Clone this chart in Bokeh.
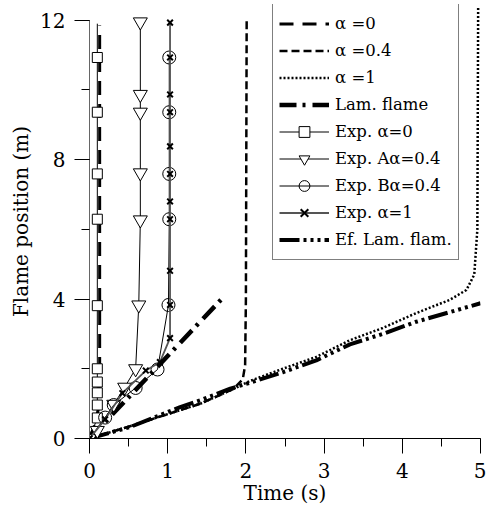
from bokeh.plotting import figure
from bokeh.models import Range1d, Legend, LegendItem, SingleIntervalTicker
from bokeh.embed import file_html
from bokeh.resources import INLINE

# ---- data ----
a0_t = [0.0, 0.06, 0.12, 0.13, 0.13]
a0_y = [0.0, 0.35, 0.9, 2.0, 11.85]

a04_t = [0.0, 0.56, 1.0, 1.42, 1.84, 1.96, 1.99, 2.0, 2.01]
a04_y = [0.0, 0.38, 0.7, 1.0, 1.42, 1.7, 2.1, 4.0, 12.05]

a1_t = [0.0, 0.56, 1.0, 1.42, 1.84, 2.05, 2.47, 2.9, 3.33, 3.75, 4.18, 4.6, 4.82, 4.92, 4.96, 4.97]
a1_y = [0.0, 0.38, 0.7, 1.0, 1.42, 1.65, 2.0, 2.34, 2.82, 3.17, 3.6, 3.97, 4.26, 4.7, 6.0, 12.35]

lam_t = [0.0, 1.69]
lam_y = [0.0, 4.0]

eflam_t = [0.0, 0.52, 1.16, 1.42, 1.8, 2.05, 2.47, 2.9, 3.33, 3.75, 4.18, 4.6, 5.0]
eflam_y = [0.0, 0.33, 0.9, 1.1, 1.43, 1.6, 1.9, 2.24, 2.7, 3.0, 3.35, 3.62, 3.88]

exp0_t = [0.0, 0.1, 0.1, 0.1, 0.1, 0.1, 0.1, 0.1, 0.1, 0.1, 0.1]
exp0_y = [0.0, 0.59, 0.96, 1.31, 1.62, 2.0, 3.81, 6.29, 7.59, 9.36, 10.93]
exp0_top = [0.1, 11.9]

expA_t = [0.0, 0.1, 0.31, 0.45, 0.59, 0.63, 0.65, 0.65, 0.65, 0.65, 0.65]
expA_y = [0.0, 0.23, 0.98, 1.47, 2.0, 3.83, 6.27, 7.62, 9.36, 9.87, 11.95]

expB_t = [0.0, 0.2, 0.31, 0.59, 0.87, 1.01, 1.02, 1.02, 1.02, 1.02]
expB_y = [0.0, 0.6, 0.96, 1.45, 1.98, 3.83, 6.29, 7.59, 9.36, 10.93]

exp1_t = [0.0, 0.2, 0.42, 0.72, 0.9, 1.03, 1.03, 1.03, 1.03, 1.03, 1.03, 1.03, 1.03, 1.03, 1.03, 1.03]
exp1_y = [0.0, 0.55, 1.3, 1.95, 2.19, 2.88, 3.83, 4.81, 6.29, 6.8, 7.59, 8.38, 9.36, 9.87, 10.93, 11.93]

labels = ["\u03b1 =0", "\u03b1 =0.4", "\u03b1 =1", "Lam. flame", "Exp. \u03b1=0",
          "Exp. A\u03b1=0.4", "Exp. B\u03b1=0.4", "Exp. \u03b1=1", "Ef. Lam. flam."]

FONT = "DejaVu Serif"

p = figure(width=486, height=510, output_backend="svg", toolbar_location=None,
           x_range=Range1d(0, 5), y_range=Range1d(0, 12.45),
           min_border_left=89, min_border_right=6, min_border_top=4, min_border_bottom=72)
p.outline_line_color = None
p.xgrid.visible = False
p.ygrid.visible = False

r_a0 = p.line(a0_t, a0_y, line_color="black", line_width=3, line_dash="14 9")
r_a04 = p.line(a04_t, a04_y, line_color="black", line_width=2.5, line_dash="8 4")
r_a1 = p.line(a1_t, a1_y, line_color="black", line_width=2.5, line_dash="2 2")
r_lam = p.line(lam_t, lam_y, line_color="black", line_width=4.5, line_dash="17 6 3 7")
r_ef = p.line(eflam_t, eflam_y, line_color="black", line_width=4, line_dash="20 4 3 4 3 4 3 4")

l_e0 = p.line(exp0_t + [exp0_top[0]], exp0_y + [exp0_top[1]], line_color="black", line_width=1)
s_e0 = p.scatter(exp0_t, exp0_y, marker="square", size=10, fill_color="white",
                 line_color="black", line_width=1)
l_eA = p.line(expA_t, expA_y, line_color="black", line_width=1)
s_eA = p.scatter(expA_t, expA_y, marker="inverted_triangle", size=14, fill_color="white",
                 line_color="black", line_width=1)
l_eB = p.line(expB_t, expB_y, line_color="black", line_width=1)
s_eB = p.scatter(expB_t, expB_y, marker="circle", size=13, fill_color="white",
                 fill_alpha=0.0, line_color="black", line_width=1)
l_e1 = p.line(exp1_t, exp1_y, line_color="#555555", line_width=1.8)
s_e1 = p.scatter(exp1_t, exp1_y, marker="x", size=8, line_color="black", line_width=2)

items = [
    LegendItem(label=labels[0], renderers=[r_a0]),
    LegendItem(label=labels[1], renderers=[r_a04]),
    LegendItem(label=labels[2], renderers=[r_a1]),
    LegendItem(label=labels[3], renderers=[r_lam]),
    LegendItem(label=labels[4], renderers=[l_e0, s_e0]),
    LegendItem(label=labels[5], renderers=[l_eA, s_eA]),
    LegendItem(label=labels[6], renderers=[l_eB, s_eB]),
    LegendItem(label=labels[7], renderers=[l_e1, s_e1]),
    LegendItem(label=labels[8], renderers=[r_ef]),
]
legend = Legend(items=items, location=(183, 178), orientation="vertical",
                glyph_width=50, glyph_height=27, label_height=27, spacing=0,
                padding=6, margin=0, label_standoff=6,
                label_text_font=FONT, label_text_font_size="16.5px",
                label_text_color="black",
                border_line_color="black", border_line_width=1,
                background_fill_color="white", background_fill_alpha=1.0)
p.add_layout(legend, "center")

p.xaxis.ticker = SingleIntervalTicker(interval=1, num_minor_ticks=2)
p.yaxis.ticker = SingleIntervalTicker(interval=4, num_minor_ticks=2)
p.xaxis.bounds = (0, 5)
p.yaxis.bounds = (0, 12)
for ax in (p.xaxis, p.yaxis):
    ax.major_tick_in = 0
    ax.minor_tick_in = 0
    ax.major_tick_out = 15
    ax.minor_tick_out = 8
    ax.major_label_text_font = FONT
    ax.major_label_text_font_size = "20px"
    ax.major_label_text_color = "black"
    ax.axis_label_text_font = FONT
    ax.axis_label_text_font_size = "20px"
    ax.axis_label_text_font_style = "normal"
    ax.axis_label_text_color = "black"
    ax.major_tick_line_color = "black"
    ax.minor_tick_line_color = "black"
p.xaxis.axis_line_color = "black"
p.yaxis.axis_line_color = "#666666"
p.xaxis.major_label_standoff = 9
p.yaxis.major_label_standoff = 9
p.xaxis.axis_label = "Time (s)"
p.yaxis.axis_label = "Flame position (m)"
p.xaxis.axis_label_standoff = 0
p.yaxis.axis_label_standoff = 4

open("out.html", "w").write(file_html(p, INLINE))
